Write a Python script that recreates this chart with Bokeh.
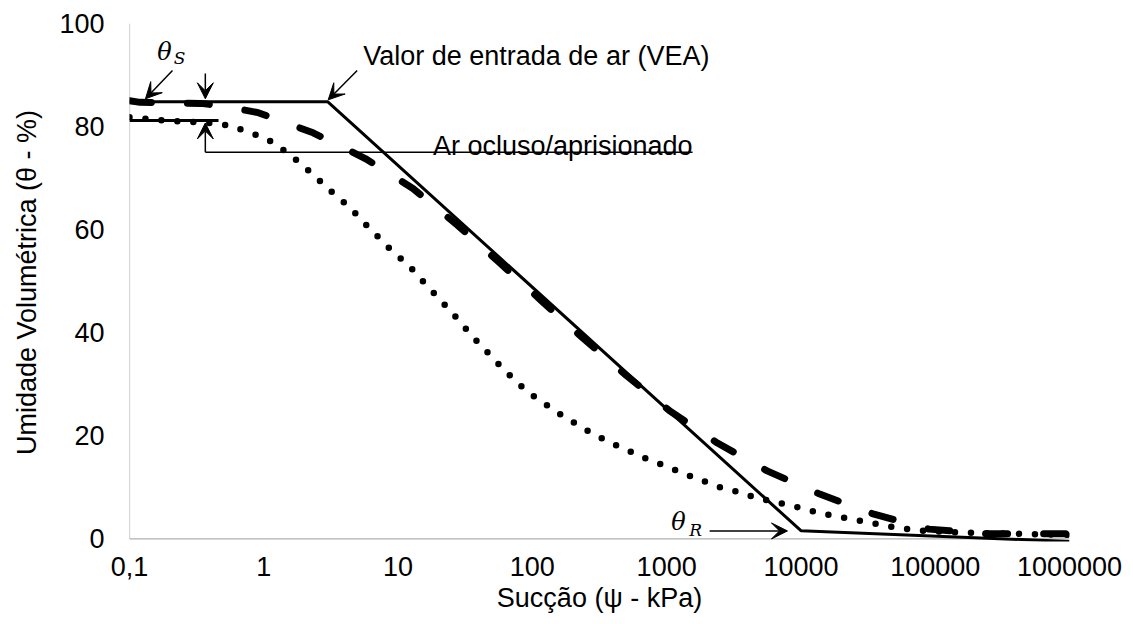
from bokeh.plotting import figure
from bokeh.models import Range1d, FixedTicker, CustomJSTickFormatter, Arrow, VeeHead, Label
from bokeh.embed import file_html
from bokeh.resources import INLINE

# ---- axis ticks ----
x_ticks = [0.1, 1, 10, 100, 1000, 10000, 100000, 1000000]
x_tick_labels = ["0,1", "1", "10", "100", "1000", "10000", "100000", "1000000"]
y_ticks = [0, 20, 40, 60, 80, 100]

# ---- idealized curve (solid) ----
psi_ideal = [0.1, 3.0, 10000, 1000000]
theta_ideal = [84.8, 84.8, 1.6, -0.5]

# ---- dashed curve ----
psi_dash = [0.1, 0.12, 0.2, 0.34, 0.5, 0.91, 2.33, 5.7, 12.9, 27.9, 57, 117, 237,
            502, 1047, 2390, 5600, 13800, 35000, 90000, 240000, 700000, 1000000]
theta_dash = [85.0, 84.7, 84.6, 84.5, 84.0, 82.7, 78.8, 73.8, 68.0, 60.8, 53.6, 46.2, 39.0,
              31.7, 24.9, 18.6, 13.2, 8.7, 4.8, 1.9, 1.0, 1.0, 1.0]

# ---- dotted curve ----
psi_dot = [0.1, 0.15, 0.2, 0.3, 0.4, 0.56, 0.75, 1.0, 1.24, 1.55, 1.93, 2.37, 2.92, 3.57,
           4.4, 5.3, 6.4, 7.8, 9.5, 11.7, 14.1, 17, 20.2, 24.4, 29.4, 34.9, 42.2, 50.9,
           61.4, 75, 92, 117, 145, 184, 233, 302, 384, 503, 651, 841, 1100, 1430, 1850,
           2440, 3200, 4280, 5630, 7410, 10000, 13000, 17100, 23000, 31000, 40000, 53000,
           80000, 170000, 400000, 1000000]
theta_dot = [81.8, 81.4, 81.1, 80.9, 80.7, 80.2, 79.0, 77.9, 76.5, 74.6, 72.6, 70.5, 68.3, 66.2,
             64.3, 61.9, 59.8, 57.5, 55.3, 53.4, 51.0, 48.7, 46.6, 44.3, 41.9, 39.6, 37.3, 35.1,
             32.8, 30.7, 28.5, 26.7, 24.9, 23.3, 21.6, 20.0, 18.6, 17.3, 15.9, 14.8, 13.6, 12.4, 11.3,
             10.1, 9.3, 8.3, 7.5, 6.8, 6.0, 5.2, 4.5, 3.9, 3.3, 2.7, 2.1,
             1.6, 1.2, 1.0, 0.8]

FONT = "Liberation Sans"
FS = "27px"

p = figure(x_axis_type="log", output_backend="svg", toolbar_location=None,
           frame_width=940, frame_height=518,
           min_border_left=129, min_border_top=23, min_border_right=60, min_border_bottom=78,
           x_range=Range1d(0.1, 1000000), y_range=Range1d(-0.5, 100),
           background_fill_color="white", border_fill_color="white")
p.outline_line_color = None
p.grid.visible = False

# axes
p.xaxis.ticker = FixedTicker(ticks=x_ticks)
p.xaxis.formatter = CustomJSTickFormatter(args=dict(vals=x_ticks, labs=x_tick_labels), code="""
    for (let i = 0; i < vals.length; i++) {
        if (Math.abs(Math.log10(tick) - Math.log10(vals[i])) < 1e-6) return labs[i];
    }
    return "";
""")
p.yaxis.ticker = FixedTicker(ticks=y_ticks)
for ax in (p.xaxis, p.yaxis):
    ax.axis_line_color = None
    ax.major_tick_line_color = None
    ax.minor_tick_line_color = None
    ax.major_tick_out = 0
    ax.major_tick_in = 0
    ax.minor_tick_out = 0
    ax.minor_tick_in = 0
    ax.major_label_text_font = FONT
    ax.major_label_text_font_size = FS
    ax.major_label_text_color = "black"
    ax.axis_label_text_font = FONT
    ax.axis_label_text_font_size = FS
    ax.axis_label_text_font_style = "normal"
    ax.axis_label_text_color = "black"
p.xaxis.axis_label = "Sucção (ψ - kPa)"
p.yaxis.axis_label = "Umidade Volumétrica (θ - %)"
p.xaxis.major_label_standoff = 15
p.xaxis.axis_label_standoff = 4
p.yaxis.major_label_standoff = 25
p.yaxis.axis_label_standoff = 14

# axis lines (drawn at y=0 and x=0.1)
p.line([x_ticks[0], x_ticks[-1]], [y_ticks[0], y_ticks[0]], line_color="#b0b0b0", line_width=1.2)
p.line([x_ticks[0], x_ticks[0]], [y_ticks[0], y_ticks[-1]], line_color="#b0b0b0", line_width=1.2)

# curves
p.line(psi_dot, theta_dot, line_color="black", line_width=6.5, line_dash="0 16", line_cap="round")
p.line(psi_dash, theta_dash, line_color="black", line_width=7, line_dash="22 36", line_cap="round")
p.line(psi_ideal, theta_ideal, line_color="black", line_width=3)

# annotation: short bracket line at occluded-air level
p.line([0.1, 0.46], [81.2, 81.2], line_color="black", line_width=3)
# annotation leader line for "Ar ocluso/aprisionado"
p.line([0.367, 1560], [75.0, 75.0], line_color="black", line_width=1.5)

def arrow(x0, y0, x1, y1, size=16):
    p.add_layout(Arrow(x_start=x0, y_start=y0, x_end=x1, y_end=y1,
                       line_color="black", line_width=1.5,
                       end=VeeHead(size=size, fill_color="black", line_color="black")))

arrow(0.367, 90.3, 0.367, 85.4)      # down arrow to theta_s
arrow(0.367, 75.0, 0.367, 80.7)      # up arrow to occluded air line
arrow(0.209, 90.9, 0.1315, 85.4)     # theta_S pointer
arrow(4.96, 90.9, 3.02, 85.2)        # VEA pointer
arrow(2090, 1.55, 7940, 1.55)        # theta_R pointer

# texts
p.add_layout(Label(x=5.5, y=93.6, text="Valor de entrada de ar (VEA)", text_font=FONT,
                   text_font_size=FS, text_align="left", text_baseline="middle", text_color="black"))
p.add_layout(Label(x=1560, y=76.3, text="Ar ocluso/aprisionado", text_font=FONT,
                   text_font_size=FS, text_align="right", text_baseline="alphabetic", text_color="black"))
p.add_layout(Label(x=0.182, y=94.4, text="θ", text_font="DejaVu Serif", text_font_style="italic",
                   text_font_size="24px", text_align="center", text_baseline="middle", text_color="black"))
p.add_layout(Label(x=0.2355, y=93.4, text="S", text_font="DejaVu Serif", text_font_style="italic",
                   text_font_size="17px", text_align="center", text_baseline="middle", text_color="black"))
p.add_layout(Label(x=1227, y=3.3, text="θ", text_font="DejaVu Serif", text_font_style="italic",
                   text_font_size="24px", text_align="center", text_baseline="middle", text_color="black"))
p.add_layout(Label(x=1644, y=1.8, text="R", text_font="DejaVu Serif", text_font_style="italic",
                   text_font_size="17px", text_align="center", text_baseline="middle", text_color="black"))

open("out.html", "w").write(file_html(p, INLINE))
